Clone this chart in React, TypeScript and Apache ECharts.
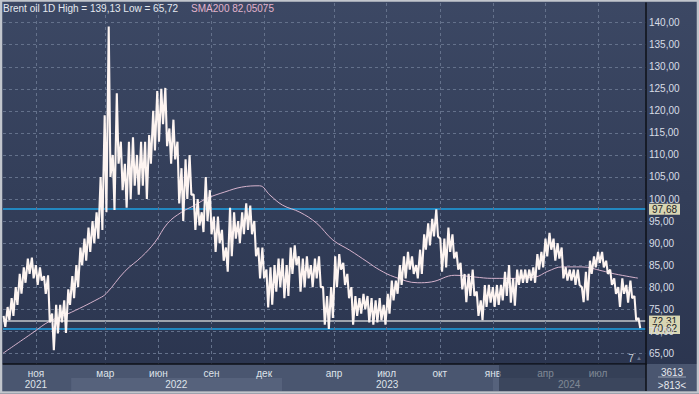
import React, { useEffect, useRef } from 'react';
import * as echarts from 'echarts';

// ---------- data ----------
const START_WEEK = '2021-09-06';
// weekly high / low of Brent
const weekHigh = [
  73.5, 75.5, 77.5, 80, 83, 84.5, 86.5, 86.7, 85, 84.5, 82.5, 82.7, 74, 76, 76, 77, 79.5, 82.5, 85, 89,
  91, 93.5, 95, 97, 105, 119, 139.13, 110, 124, 113, 108, 113, 114, 110, 113, 113, 114.5, 120, 124.5, 125,
  125.2, 116, 118, 113, 107, 109, 110, 101, 100, 97, 105, 102, 96, 96, 93, 89, 98, 97, 95, 97,
  99, 98.5, 95, 89, 89, 84, 84.5, 85, 86.5, 86.5, 85, 89, 89.5, 87, 86.5, 87, 85, 86.5, 87, 80,
  78, 80, 87, 87.5, 85.5, 83, 80, 78, 77.5, 78.5, 78, 77.5, 77, 77.5, 76, 78.5, 81.5, 81.5, 85, 87,
  88, 87, 85, 88.5, 92, 94.5, 95.5, 97.68, 91, 91, 93.5, 92, 88, 85.5, 83, 83, 84, 79, 77, 80.5,
  80.5, 80, 80.5, 80.5, 83.5, 85, 82, 84, 84, 84, 84, 84.5, 87.5, 88, 91, 92.3, 91, 90, 89, 84.5,
  84, 84, 84, 80, 83.5, 86, 87, 88, 88, 86, 84, 82, 80, 82, 80.5, 81.5, 78, 73
];
const weekLow = [
  71, 72.5, 73.5, 76, 78.5, 81, 83, 82, 80.5, 81.5, 78.5, 72, 65.72, 69.5, 72, 69.6, 76, 77.5, 80, 85,
  86, 88, 90, 91, 93, 97, 105, 97.5, 108, 102, 98, 100, 103, 101, 103, 100, 108, 111, 113, 117,
  112, 108, 109, 99, 95, 100, 101, 93, 94, 92.5, 95, 92, 88, 90, 86, 83.5, 87, 91, 90, 92,
  93, 92, 87, 82, 82, 75.4, 76, 79, 80, 77.5, 78, 83, 85, 79, 80, 82, 80, 82, 80, 71.5,
  70.5, 73, 80, 84, 80.5, 77.5, 71.5, 73.5, 74, 75, 72, 71.5, 72, 72.5, 71.5, 74, 77, 78.5, 80.5, 82,
  84, 83, 82, 83, 88.5, 89.5, 91.5, 91.5, 83.5, 84.5, 88, 86.5, 84, 79.5, 76.6, 78, 78, 73.5, 72.5, 75.5,
  76.5, 75.5, 76, 77, 78, 76.5, 75.8, 80.5, 81, 81, 81.5, 81, 84, 84.5, 87, 88.5, 86, 86.5, 82, 81.5,
  81.5, 80.5, 80.5, 76.6, 77, 83, 84.5, 85.5, 84.5, 83, 80.5, 78.5, 75.5, 78.5, 76.5, 77.5, 72.5, 70.7
];
const smaDates = [
  '2021-09-05', '2021-10-27', '2021-11-25', '2021-12-24', '2022-02-19', '2022-03-03', '2022-04-04',
  '2022-05-03', '2022-05-26', '2022-06-17', '2022-07-11', '2022-08-03', '2022-08-25', '2022-09-24',
  '2022-10-23', '2022-11-23', '2022-12-11', '2023-01-02', '2023-02-01', '2023-03-02', '2023-03-30',
  '2023-04-28', '2023-05-28', '2023-06-19', '2023-07-15', '2023-08-24', '2023-09-17', '2023-10-27',
  '2023-12-01', '2023-12-30', '2024-01-27', '2024-03-14', '2024-04-05', '2024-04-30', '2024-06-03',
  '2024-07-08', '2024-07-30', '2024-09-08'
];
const smaValues = [
  65.0, 69.7, 72.3, 73.8, 77.5, 78.6, 83.6, 86.9, 90.2, 94.5, 97.0, 98.6, 100.2, 101.6,
  102.7, 103.0, 100.9, 98.6, 97.0, 94.5, 90.7, 88.4, 85.8, 83.9, 82.3, 81.0, 81.2, 82.7,
  82.3, 82.0, 82.0, 82.3, 83.6, 84.6, 84.6, 83.7, 83.0, 82.05075
];
const monthTicks = [
  '2021-11-01', '2022-03-01', '2022-06-01', '2022-09-01', '2022-12-01', '2023-04-01',
  '2023-07-01', '2023-10-01', '2024-01-01', '2024-04-01', '2024-07-01'
];
const monthNames = ['янв', 'фев', 'мар', 'апр', 'май', 'июн', 'июл', 'авг', 'сен', 'окт', 'ноя', 'дек'];
const yearLabelDates = ['2021-11-01', '2022-07-02', '2023-07-02', '2024-05-12'];
const yearBounds = ['2022-01-01', '2023-01-01', '2024-01-01'];
const yTicks = [65, 70, 75, 80, 85, 90, 95, 100, 105, 110, 115, 120, 125, 130, 135, 140];
const blueLevels = [97.68, 70.62];
const lastClose = 72.31;
const X_MIN = '2021-09-05';
const X_MAX = '2024-09-22';
const Y_MIN = 62.57;
const Y_MAX = 144.47;
const infoTop = '3613';
const infoBottom = '>813<';
const cornerCount = '7';

// ---------- helpers ----------
const DAY = 86400000;
const ts = (s: string) => {
  const [y, m, d] = s.split('-').map(Number);
  return new Date(y, m - 1, d).getTime();
};
const fmt2 = (v: number) => v.toFixed(2).replace('.', ',');
const FONT = 'Liberation Sans';

export default function App() {
  const ref = useRef<HTMLDivElement>(null);
  useEffect(() => {
    document.body.style.margin = '0';
    const chart = echarts.init(ref.current!, null, { renderer: 'svg' });

    const priceData: [number, number][] = [];
    weekHigh.forEach((h, i) => {
      const t = ts(START_WEEK) + i * 7 * DAY;
      priceData.push([t, h]);
      priceData.push([t + 3 * DAY, weekLow[i]]);
    });
    const smaData = smaDates.map((d, i) => [ts(d), smaValues[i]]);
    const maxHigh = Math.max(...weekHigh);
    const minLow = Math.min(...weekLow);
    const smaLast = smaValues[smaValues.length - 1];

    const tagLabel = (bg: string) => ({
      show: true,
      position: 'end',
      distance: 3,
      formatter: (p: any) => fmt2(p.value),
      backgroundColor: bg,
      color: '#1b1d28',
      padding: [1, 3, 0, 3],
      fontSize: 10,
      fontFamily: FONT,
    });

    const option: any = {
      animation: false,
      title: {
        text: `{a|Brent oil 1D High = ${fmt2(maxHigh)} Low = ${fmt2(minLow)}}{b|SMA200 ${String(smaLast).replace('.', ',')}}`,
        left: 3,
        top: 3,
        padding: 0,
        textStyle: {
          fontWeight: 'normal',
          rich: {
            a: { color: '#e4e8ef', fontSize: 10, fontFamily: FONT, fontWeight: 'normal' },
            b: { color: '#e2b3cc', fontSize: 10, fontFamily: FONT, fontWeight: 'normal', padding: [0, 0, 0, 13] },
          },
        },
        z: 12,
      },
      grid: { left: 3, right: 53, top: 3, bottom: 30 },
      xAxis: [
        {
          type: 'value',
          min: ts(X_MIN),
          max: ts(X_MAX),
          z: 10,
          axisLine: { show: true, lineStyle: { color: '#0e1117', width: 1.5 } },
          axisTick: { show: false, customValues: monthTicks.map(ts) },
          axisLabel: {
            customValues: monthTicks.map(ts),
            formatter: (v: number) => monthNames[new Date(v).getMonth()],
            color: '#dfe3ea',
            fontSize: 10,
            fontFamily: FONT,
            margin: 4,
          },
          splitLine: { show: true, lineStyle: { color: '#64718b', type: [3, 3], width: 1 } },
        },
        {
          type: 'value',
          min: ts(X_MIN),
          max: ts(X_MAX),
          z: 10,
          position: 'bottom',
          axisLine: { show: false },
          axisTick: { show: false, customValues: yearLabelDates.map(ts) },
          splitLine: { show: false },
          axisLabel: {
            customValues: yearLabelDates.map(ts),
            formatter: (v: number) => String(new Date(v).getFullYear()),
            color: '#dfe3ea',
            fontSize: 10,
            fontFamily: FONT,
            margin: 15,
          },
        },
      ],
      yAxis: {
        type: 'value',
        position: 'right',
        min: Y_MIN,
        max: Y_MAX,
        z: 10,
        axisLine: { show: true, lineStyle: { color: '#0e1117', width: 1.5 } },
        axisTick: { show: false, customValues: yTicks },
        axisLabel: {
          customValues: yTicks,
          formatter: (v: number) => fmt2(v),
          color: '#d8dde6',
          fontSize: 10,
          fontFamily: FONT,
          margin: 3,
        },
        splitLine: { show: true, lineStyle: { color: '#64718b', type: [3, 3], width: 1 } },
      },
      series: [
        {
          name: 'SMA200',
          type: 'line',
          data: smaData,
          smooth: 0.4,
          showSymbol: false,
          z: 14,
          lineStyle: { color: '#d6b3cd', width: 1 },
          markLine: {
            silent: true,
            symbol: ['none', 'none'],
            lineStyle: { opacity: 0, width: 0 },
            data: [{ yAxis: smaLast, label: { ...tagLabel('#c8bfdb'), formatter: () => String(smaLast).replace('.', ',') } }],
          },
        },
        {
          name: 'Brent',
          type: 'line',
          data: priceData,
          showSymbol: false,
          z: 15,
          lineStyle: { color: '#fdf4f1', width: 2.1, join: 'bevel' },
          markLine: {
            silent: true,
            symbol: ['none', 'none'],
            data: [
              { yAxis: blueLevels[0], lineStyle: { color: '#1ea2e4', width: 1.5, type: 'solid' }, label: tagLabel('#d8d5b2') },
              { yAxis: lastClose, lineStyle: { color: '#c4c7cd', width: 1.5, type: 'solid' }, label: tagLabel('#d8d5b2') },
              { yAxis: blueLevels[1], lineStyle: { color: '#1ea2e4', width: 1.5, type: 'solid' }, label: tagLabel('#d8d5b2') },
            ],
          },
        },
      ],
    };
    chart.setOption(option);

    const px = (d: string) => chart.convertToPixel({ xAxisIndex: 0 }, ts(d)) as number;
    const b22 = px(yearBounds[0]);
    const b23 = px(yearBounds[1]);
    const b24 = px(yearBounds[2]);
    const plotRight = 646;

    chart.setOption({
      graphic: [
        {
          type: 'rect', z: -10, silent: true,
          shape: { x: 0, y: 0, width: 699, height: 394 },
          style: {
            fill: new echarts.graphic.LinearGradient(0, 0, 0, 1, [
              { offset: 0, color: '#3c4864' },
              { offset: 1, color: '#2a344e' },
            ]),
          },
        },
        { type: 'rect', z: 5, silent: true, shape: { x: 0, y: 364, width: 699, height: 27 }, style: { fill: '#4a5670' } },
        { type: 'rect', z: 6, silent: true, shape: { x: b22, y: 378, width: b23 - b22, height: 13 }, style: { fill: '#56627c' } },
        { type: 'rect', z: 6, silent: true, shape: { x: b24, y: 378, width: plotRight - b24, height: 13 }, style: { fill: '#56627c' } },
        { type: 'rect', z: 20, silent: true, shape: { x: 499, y: 364, width: plotRight - 499, height: 27 }, style: { fill: 'rgba(32,42,62,0.5)' } },
        { type: 'line', z: 21, silent: true, shape: { x1: plotRight, y1: 364, x2: plotRight, y2: 391 }, style: { stroke: '#0e1117', lineWidth: 1.5 } },
        { type: 'text', z: 21, silent: true, x: 672, y: 372, style: { text: infoTop, fill: '#e6e9ee', font: `10px "${FONT}"`, align: 'center', verticalAlign: 'middle' } },
        { type: 'line', z: 21, silent: true, shape: { x1: 658, y1: 377, x2: 686, y2: 377 }, style: { stroke: '#9aa3b4', lineWidth: 1 } },
        { type: 'text', z: 21, silent: true, x: 672, y: 385, style: { text: infoBottom, fill: '#e6e9ee', font: `10px "${FONT}"`, align: 'center', verticalAlign: 'middle' } },
        { type: 'text', z: 21, silent: true, x: 631, y: 358, style: { text: cornerCount, fill: '#c9d0da', font: `10px "${FONT}"`, align: 'center', verticalAlign: 'middle' } },
        { type: 'text', z: 21, silent: true, x: 639, y: 358, style: { text: '▲', fill: '#6d7890', font: `6px "${FONT}"`, align: 'center', verticalAlign: 'middle' } },
        {
          type: 'rect', z: 30, silent: true,
          shape: { x: 1, y: 0.5, width: 697, height: 392 },
          style: { fill: 'none', stroke: '#c2c6cd', lineWidth: 2.5 },
        },
      ],
    });

    return () => chart.dispose();
  }, []);
  return <div ref={ref} style={{ position: 'absolute', left: 0, top: 0, width: 699, height: 394 }} />;
}
